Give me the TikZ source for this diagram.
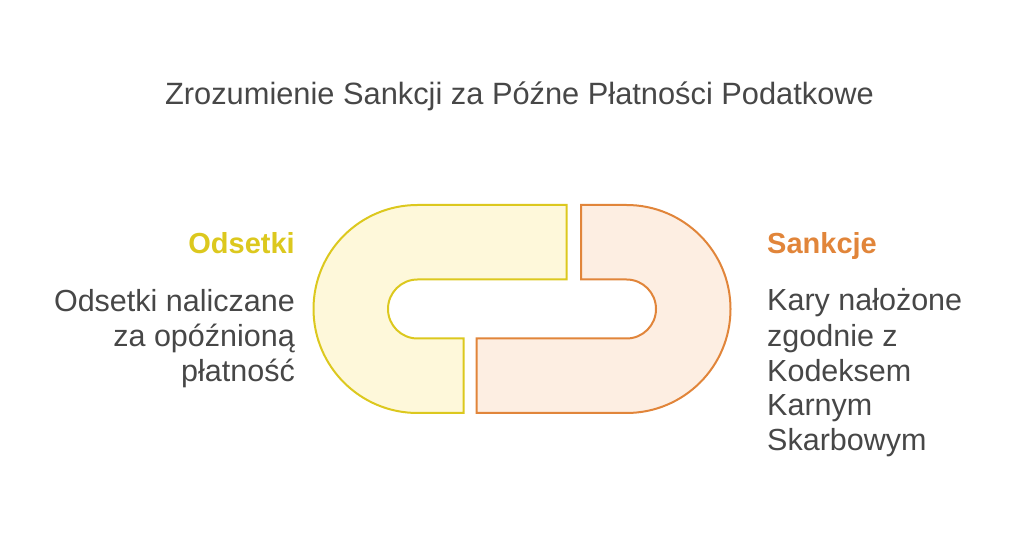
\documentclass[tikz,border=0pt]{standalone}
\usepackage{fontspec}
\setmainfont{Liberation Sans}
\definecolor{linkyellow}{HTML}{DCC81E}
\definecolor{fillyellow}{HTML}{FEF8DA}
\definecolor{linkorange}{HTML}{E1853A}
\definecolor{fillorange}{HTML}{FDEEE2}
\definecolor{textgray}{HTML}{474747}
\tikzset{
  link/.style={line width=2pt, line join=miter},
  heading/.style={font=\fontsize{29}{35}\selectfont\bfseries, inner sep=0pt},
  body/.style={font=\fontsize{30.5}{35}\selectfont, text=textgray, inner sep=0pt},
}
\begin{document}
\begin{tikzpicture}[x=1pt,y=1pt]
      \useasboundingbox (0,0) rectangle (1024,543);
      \node[font=\fontsize{30.8}{36}\selectfont, text=textgray, anchor=base] (title)
        at (519.5,438) {Zrozumienie Sankcji za Późne Płatności Podatkowe};
      % the two halves of the chain link
      \draw[link, draw=linkyellow, fill=fillyellow]
        (566.5,338) -- (417.5,338) arc[start angle=90, end angle=270, radius=104]
        -- (463.5,130) -- (463.5,204.5) -- (417.5,204.5)
        arc[start angle=270, end angle=90, radius=29.5]
        -- (566.5,263.5) -- cycle;
      \draw[link, draw=linkorange, fill=fillorange]
        (581,338) -- (626.5,338) arc[start angle=90, end angle=-90, radius=104]
        -- (476.5,130) -- (476.5,204.5) -- (626.5,204.5)
        arc[start angle=-90, end angle=90, radius=29.5]
        -- (581,263.5) -- cycle;
      % left side
      \node[heading, text=linkyellow, anchor=base east] (odsetki) at (295,289) {Odsetki};
      \node[body, align=right, anchor=base east] (odsetkitext) at (295,161.5)
        {Odsetki naliczane\\za opóźnioną\\płatność};
      % right side
      \node[heading, text=linkorange, anchor=base west] (sankcje) at (767,289) {Sankcje};
      \node[body, align=left, anchor=base west] (sankcjetext) at (767,92)
        {Kary nałożone\\zgodnie z\\Kodeksem\\Karnym\\Skarbowym};
    \end{tikzpicture}
\end{document}
